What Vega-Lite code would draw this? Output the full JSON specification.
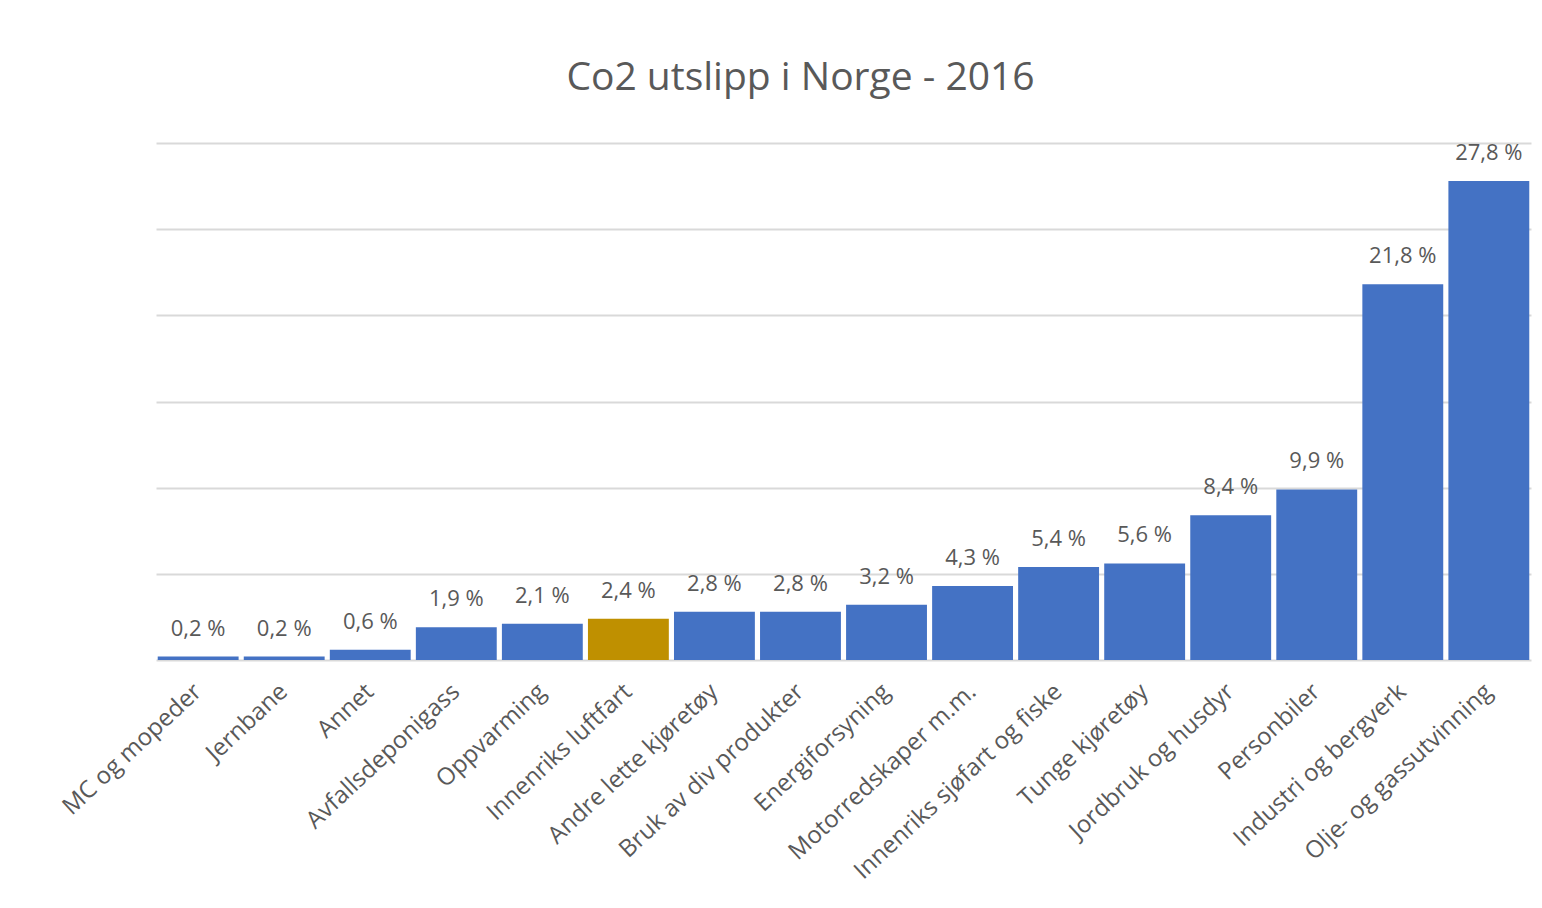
{
  "$schema": "https://vega.github.io/schema/vega-lite/v6.json",
  "width": 1375,
  "height": 517,
  "autosize": "none",
  "padding": {"left": 156, "top": 143, "right": 11, "bottom": 248},
  "background": "white",
  "title": {
    "text": "Co2 utslipp i Norge - 2016",
    "fontSize": 39,
    "font": "Open Sans",
    "fontWeight": "normal",
    "color": "#595959",
    "anchor": "middle",
    "dx": -43,
    "offset": 44
  },
  "data": {
    "values": [
      {"kategori": "MC og mopeder", "andel": 0.2, "fremhevet": "nei"},
      {"kategori": "Jernbane", "andel": 0.2, "fremhevet": "nei"},
      {"kategori": "Annet", "andel": 0.6, "fremhevet": "nei"},
      {"kategori": "Avfallsdeponigass", "andel": 1.9, "fremhevet": "nei"},
      {"kategori": "Oppvarming", "andel": 2.1, "fremhevet": "nei"},
      {"kategori": "Innenriks luftfart", "andel": 2.4, "fremhevet": "ja"},
      {"kategori": "Andre lette kjøretøy", "andel": 2.8, "fremhevet": "nei"},
      {"kategori": "Bruk av div produkter", "andel": 2.8, "fremhevet": "nei"},
      {"kategori": "Energiforsyning", "andel": 3.2, "fremhevet": "nei"},
      {"kategori": "Motorredskaper m.m.", "andel": 4.3, "fremhevet": "nei"},
      {"kategori": "Innenriks sjøfart og fiske", "andel": 5.4, "fremhevet": "nei"},
      {"kategori": "Tunge kjøretøy", "andel": 5.6, "fremhevet": "nei"},
      {"kategori": "Jordbruk og husdyr", "andel": 8.4, "fremhevet": "nei"},
      {"kategori": "Personbiler", "andel": 9.9, "fremhevet": "nei"},
      {"kategori": "Industri og bergverk", "andel": 21.8, "fremhevet": "nei"},
      {"kategori": "Olje- og gassutvinning", "andel": 27.8, "fremhevet": "nei"}
    ]
  },
  "transform": [
    {"calculate": "replace(format(datum.andel, '.1f'), '.', ',') + ' %'", "as": "etikett"}
  ],
  "encoding": {
    "x": {
      "field": "kategori",
      "type": "nominal",
      "sort": null,
      "scale": {"paddingInner": 0.06, "paddingOuter": 0.02},
      "axis": {
        "title": null,
        "labelAngle": -43,
        "labelAlign": "right",
        "labelBaseline": "middle",
        "labelPadding": 28,
        "labelFont": "Open Sans",
        "labelFontSize": 24,
        "labelColor": "#595959",
        "labelLimit": 400,
        "ticks": false,
        "domainColor": "#d9d9d9",
        "domainWidth": 2
      }
    },
    "y": {
      "field": "andel",
      "type": "quantitative",
      "scale": {"domain": [0, 30], "nice": false},
      "axis": {
        "title": null,
        "labels": false,
        "ticks": false,
        "domain": false,
        "grid": true,
        "gridColor": "#d9d9d9",
        "gridWidth": 2,
        "values": [5, 10, 15, 20, 25, 30]
      }
    }
  },
  "layer": [
    {
      "mark": {"type": "bar"},
      "encoding": {
        "color": {
          "field": "fremhevet",
          "type": "nominal",
          "scale": {"domain": ["nei", "ja"], "range": ["#4472C4", "#BF9000"]},
          "legend": null
        }
      }
    },
    {
      "mark": {
        "type": "text",
        "baseline": "middle",
        "dy": -28,
        "font": "Open Sans",
        "fontSize": 22,
        "color": "#595959"
      },
      "encoding": {
        "text": {"field": "etikett", "type": "nominal"}
      }
    }
  ],
  "config": {"view": {"stroke": null}}
}
